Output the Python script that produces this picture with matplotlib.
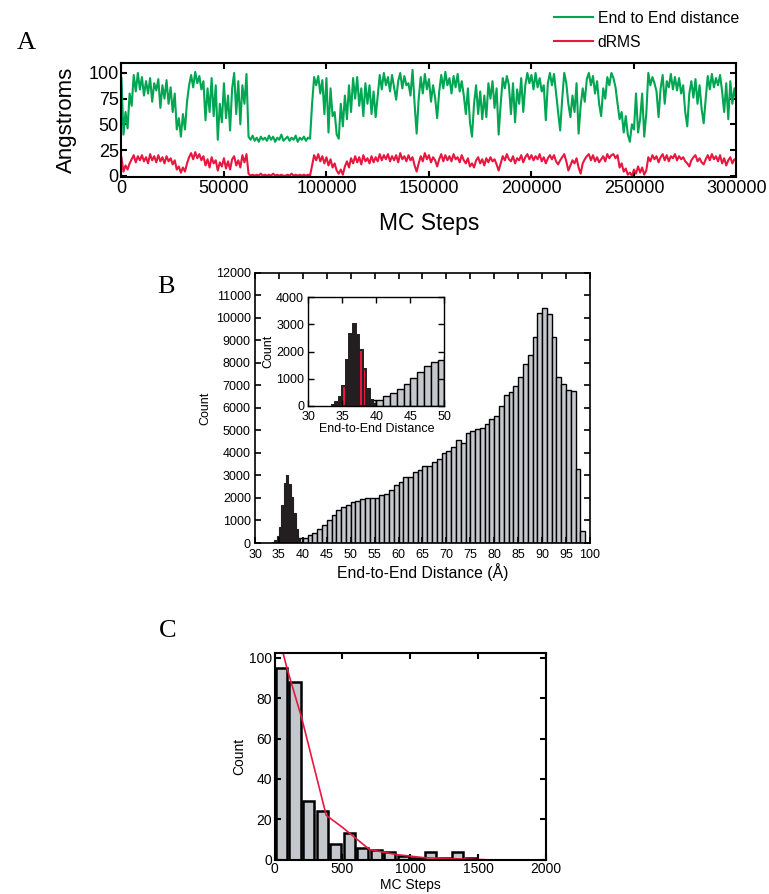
import matplotlib
matplotlib.use('Agg')
import matplotlib.pyplot as plt

plt.rcParams['font.family'] = ['Liberation Sans', 'DejaVu Sans']

# ---------------- panel A: trajectory (one value per 1000 MC steps) ----------------
stepSize = 1000
greenTrace = [
	95, 40, 62, 46, 80, 68, 98, 82, 100, 84,
	96, 78, 92, 80, 95, 72, 90, 83, 94, 66,
	88, 75, 93, 70, 86, 62, 80, 45, 56, 38,
	60, 45, 72, 88, 98, 86, 101, 90, 97, 84,
	92, 54, 85, 62, 95, 58, 88, 35, 70, 52,
	90, 56, 78, 44, 85, 100, 60, 92, 50, 88,
	70, 99, 38, 35, 39, 34, 37, 33, 38, 35,
	37, 34, 39, 35, 38, 33, 37, 35, 40, 34,
	36, 38, 34, 37, 35, 39, 33, 37, 35, 38,
	34, 37, 36, 70, 96, 88, 97, 80, 93, 60,
	95, 42, 85, 58, 62, 40, 36, 70, 48, 78,
	55, 88, 62, 95, 75, 96, 68, 85, 58, 90,
	70, 88, 60, 82, 57, 78, 98, 84, 100, 88,
	96, 82, 98, 86, 74, 92, 100, 85, 97, 88,
	90, 78, 103, 70, 41, 75, 96, 80, 99, 84,
	94, 72, 88, 76, 56, 82, 98, 85, 101, 88,
	95, 80, 97, 86, 99, 82, 92, 78, 60, 85,
	52, 38, 70, 88, 60, 82, 55, 78, 57, 90,
	75, 92, 66, 85, 40, 70, 95, 85, 97, 88,
	60, 90, 52, 84, 70, 95, 62, 88, 100, 90,
	98, 84, 100, 86, 95, 82, 88, 54, 90, 100,
	88, 99, 80, 62, 44, 75, 100, 90, 70, 57,
	78, 62, 90, 41, 68, 85, 72, 94, 100, 88,
	97, 80, 92, 70, 58, 85, 75, 96, 88, 100,
	95, 86, 70, 55, 62, 42, 58, 40, 33, 50,
	45, 80, 42, 55, 80, 38, 60, 100, 88, 96,
	90, 82, 57, 85, 98, 70, 92, 86, 99, 84,
	96, 83, 95, 80, 88, 62, 48, 80, 92, 76,
	94, 70, 88, 65, 51, 75, 97, 84, 99, 86,
	95, 88, 98, 82, 62, 90, 55, 92, 70, 85,
	72,
]
redTrace = [
	18, 4, 10, 6, 12, 16, 20, 13, 19, 15,
	20, 14, 18, 12, 21, 15, 19, 13, 20, 14,
	18, 12, 19, 14, 17, 11, 15, 6, 9, 3,
	8, 4, 12, 18, 22, 16, 23, 17, 21, 15,
	19, 10, 16, 8, 18, 12, 15, 5, 13, 9,
	17, 7, 14, 6, 16, 19, 10, 15, 8, 20,
	13, 21, 2, 0, 1, 0, 1, 0, 2, 0,
	1, 0, 1, 0, 2, 0, 1, 0, 1, 0,
	0, 1, 0, 2, 0, 1, 0, 1, 0, 1,
	0, 1, 0, 10, 20, 15, 21, 14, 19, 12,
	18, 10, 16, 8, 12, 5, 2, 6, 1, 9,
	14, 8, 17, 12, 19, 13, 18, 11, 20, 14,
	17, 12, 19, 13, 18, 14, 21, 15, 20, 16,
	21, 14, 19, 15, 20, 13, 22, 16, 19, 14,
	20, 15, 18, 10, 4, 12, 19, 14, 22, 16,
	20, 13, 18, 15, 9, 16, 21, 14, 20, 15,
	19, 14, 21, 16, 18, 13, 20, 15, 12, 17,
	9, 12, 8, 15, 18, 12, 16, 10, 17, 13,
	18, 14, 16, 11, 5, 12, 19, 15, 21, 16,
	14, 19, 12, 17, 15, 20, 13, 18, 21, 16,
	20, 15, 19, 16, 21, 14, 18, 12, 17, 20,
	16, 20, 14, 11, 15, 18, 21, 14, 5, 10,
	15, 12, 17, 8, 2, 12, 16, 19, 21, 15,
	20, 14, 18, 13, 16, 19, 14, 21, 17, 20,
	21, 17, 20, 8, 12, 4, 7, 1, 3, 0,
	6, 2, 9, 3, 8, 1, 5, 18, 14, 20,
	16, 19, 13, 18, 21, 15, 20, 14, 19, 17,
	21, 15, 19, 16, 18, 14, 12, 9, 15, 18,
	20, 14, 17, 13, 11, 16, 20, 15, 21, 16,
	19, 14, 20, 12, 17, 10, 15, 18, 12, 16,
	14,
]

# ---------------- panel B: end-to-end distance histogram ----------------
# 1 A bins, left edges 39..98
grayEdges = list(range(39, 99))
grayCounts = [
	210, 220, 370, 460, 620, 810, 1010, 1250, 1450, 1610,
	1700, 1830, 1870, 1950, 2000, 2000, 2020, 2130, 2180, 2350,
	2580, 2700, 2950, 2920, 3150, 3250, 3430, 3430, 3580, 3720,
	4000, 4090, 4240, 4570, 4460, 4880, 4950, 5050, 5100, 5280,
	5500, 5620, 6060, 6580, 6700, 6980, 7350, 7950, 8350, 9150,
	10200, 10450, 10150, 9150, 7350, 7050, 6800, 6750, 3300, 550,
]
# 0.5 A bins of the compact state
darkEdges = [33.5, 34.0, 34.5, 35.0, 35.5, 36.0, 36.5, 37.0, 37.5, 38.0, 38.5, 39.0, 39.5]
darkCounts = [40, 120, 330, 720, 1700, 2650, 3020, 2600, 2060, 1350, 600, 220, 60]
darkIsRed = [False, False, False, True, False, False, False, False, True, True, False, False, False]

# ---------------- panel C: lifetime histogram ----------------
lifeCenters = [50, 150, 250, 350, 450, 550, 650, 750, 850, 950, 1050, 1150, 1250, 1350, 1450]
lifeCounts = [95, 88, 29, 24, 8, 13, 6, 5, 4, 2, 1, 4, 1, 4, 1]
fitSteps = [40, 90, 200, 380, 500, 700, 900, 1100, 1300, 1550]
fitCounts = [108, 95, 70, 22, 16, 5, 2.5, 1, 0.5, 0]

greenColor = '#00a651'
redColor = '#e8173f'
grayFill = '#c4c7cc'
darkFill = '#231f20'

fig = plt.figure(figsize=(7.69, 8.94), dpi=100)

def styleAxes(ax, lw):
	ax.tick_params(direction='in', top=True, right=True, length=4, width=lw, pad=2)
	for s in ax.spines.values():
		s.set_linewidth(lw)

# panel A
axA = fig.add_axes([0.1579, 0.8023, 0.7998, 0.1276])
steps = [i * stepSize for i in range(len(greenTrace))]
lineG, = axA.plot(steps, greenTrace, color=greenColor, lw=1.5, label='End to End distance')
lineR, = axA.plot(steps, redTrace, color=redColor, lw=1.5, label='dRMS')
axA.set_xlim(0, 300000)
axA.set_ylim(-1, 110)
axA.set_xticks(range(0, 300001, 50000))
axA.set_yticks([0, 25, 50, 75, 100])
styleAxes(axA, 1.5)
axA.tick_params(labelsize=13)
axA.set_ylabel('Angstroms', fontsize=16, labelpad=8)
axA.set_xlabel('MC Steps', fontsize=16.5, labelpad=11)
fig.legend(handles=[lineG, lineR], loc='upper left', bbox_to_anchor=(0.706, 1.0), frameon=False,
	fontsize=11.3, handlelength=2.5, handletextpad=0.3, labelspacing=0.55, borderaxespad=0.3)
fig.text(0.022, 0.945, 'A', fontsize=19, family='Liberation Serif')

# panel B
axB = fig.add_axes([0.3316, 0.3926, 0.4356, 0.3024])
axB.bar(grayEdges, grayCounts, width=1, align='edge', color=grayFill, edgecolor='black', lw=1.0)
axB.bar(darkEdges, darkCounts, width=0.5, align='edge', color=darkFill, edgecolor=darkFill, lw=0.8)
axB.set_xlim(30, 100)
axB.set_ylim(0, 12000)
axB.set_xticks(range(30, 101, 5))
axB.set_yticks(range(0, 12001, 1000))
styleAxes(axB, 1.2)
axB.tick_params(labelsize=9)
axB.tick_params(axis='x', pad=4)
axB.tick_params(axis='y', pad=3)
axB.set_xlabel('End-to-End Distance (\u00c5)', fontsize=11.3, labelpad=2)
axB.set_ylabel('Count', fontsize=9, labelpad=3)
fig.text(0.205, 0.672, 'B', fontsize=19, family='Liberation Serif')

# inset
axI = fig.add_axes([0.4009, 0.5462, 0.1769, 0.1212])
axI.bar(grayEdges, grayCounts, width=1, align='edge', color=grayFill, edgecolor='black', lw=1.0)
darkColors = [redColor if r else darkFill for r in darkIsRed]
axI.bar(darkEdges, darkCounts, width=0.5, align='edge', color=darkColors, edgecolor=darkFill, lw=1.4)
axI.set_xlim(30, 50)
axI.set_ylim(0, 4000)
axI.set_xticks([30, 35, 40, 45, 50])
axI.set_yticks([0, 1000, 2000, 3000, 4000])
styleAxes(axI, 1.0)
axI.tick_params(labelsize=9)
axI.tick_params(axis='x', pad=4)
axI.tick_params(axis='y', pad=3)
axI.set_xlabel('End-to-End Distance', fontsize=9, labelpad=0)
axI.set_ylabel('Count', fontsize=9, labelpad=1)

# panel C
axC = fig.add_axes([0.3572, 0.0384, 0.3525, 0.2315])
axC.bar(lifeCenters, lifeCounts, width=82, color=grayFill, edgecolor='black', lw=1.8)
axC.plot(fitSteps, fitCounts, color=redColor, lw=1.2)
axC.set_xlim(0, 2000)
axC.set_ylim(0, 102.5)
axC.set_xticks([0, 500, 1000, 1500, 2000])
axC.set_yticks([0, 20, 40, 60, 80, 100])
styleAxes(axC, 1.5)
axC.tick_params(labelsize=10)
axC.set_xlabel('MC Steps', fontsize=10, labelpad=1)
axC.set_ylabel('Count', fontsize=10, labelpad=2)
fig.text(0.207, 0.287, 'C', fontsize=19, family='Liberation Serif')

fig.savefig('out.png', dpi=100)
